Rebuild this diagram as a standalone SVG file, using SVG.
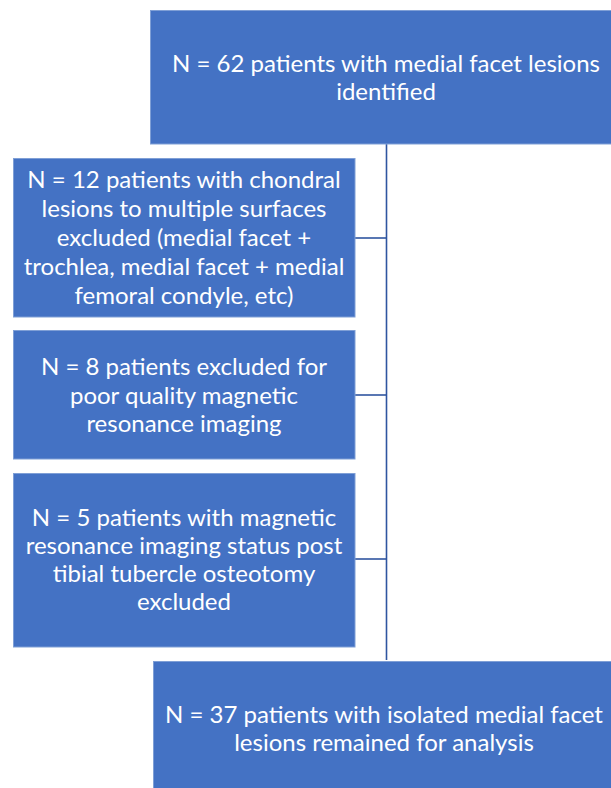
<svg xmlns="http://www.w3.org/2000/svg" width="611" height="788" viewBox="0 0 611 788">
<style>
.box{fill:#4472C4;stroke:#7f9fd6;stroke-width:1}
.t{fill:#ffffff;font-family:Lato,"Liberation Sans",sans-serif;font-size:24px;text-anchor:middle}
.c{stroke:#2f55a0;stroke-width:1.6;fill:none}
</style>
<rect width="611" height="788" fill="#ffffff"/>
<g id="connectors">
<line class="c" x1="386.5" y1="144" x2="386.5" y2="660"/>
<line class="c" x1="355" y1="238" x2="386.5" y2="238"/>
<line class="c" x1="355" y1="395" x2="386.5" y2="395"/>
<line class="c" x1="355" y1="559" x2="386.5" y2="559"/>
</g>
<g id="n1">
<rect class="box" x="150.5" y="10.5" width="472" height="133.5"/>
<text class="t" x="386" y="72">N = 62 patients with medial facet lesions</text>
<text class="t" x="386" y="100">identified</text>
</g>
<g id="n2">
<rect class="box" x="13.5" y="158.5" width="341.5" height="158.5"/>
<text class="t" x="184" y="188">N = 12 patients with chondral</text>
<text class="t" x="184" y="217">lesions to multiple surfaces</text>
<text class="t" x="184" y="246">excluded (medial facet +</text>
<text class="t" x="184" y="275">trochlea, medial facet + medial</text>
<text class="t" x="184" y="304">femoral condyle, etc)</text>
</g>
<g id="n3">
<rect class="box" x="13.5" y="330.5" width="341.5" height="128.5"/>
<text class="t" x="184" y="375">N = 8 patients excluded for</text>
<text class="t" x="184" y="404">poor quality magnetic</text>
<text class="t" x="184" y="432">resonance imaging</text>
</g>
<g id="n4">
<rect class="box" x="13.5" y="473.5" width="341.5" height="173.5"/>
<text class="t" x="184" y="526">N = 5 patients with magnetic</text>
<text class="t" x="184" y="554">resonance imaging status post</text>
<text class="t" x="184" y="582">tibial tubercle osteotomy</text>
<text class="t" x="184" y="610">excluded</text>
</g>
<g id="n5">
<rect class="box" x="153.5" y="661.5" width="470" height="140"/>
<text class="t" x="384" y="723">N = 37 patients with isolated medial facet</text>
<text class="t" x="384" y="751">lesions remained for analysis</text>
</g>
</svg>
